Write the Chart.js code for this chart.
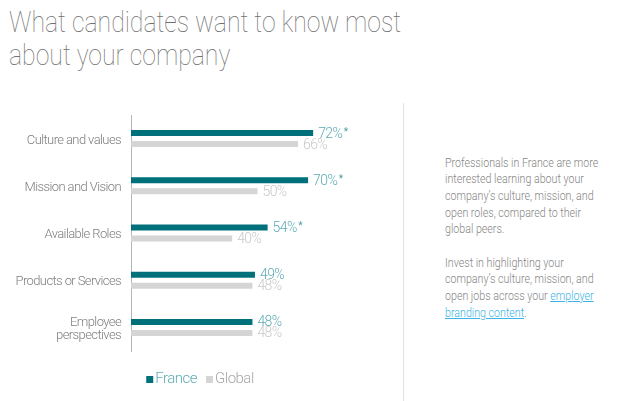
<!DOCTYPE html>
<html>
<head>
<meta charset="utf-8">
<script src="https://cdn.jsdelivr.net/npm/chart.js@4.4.1/dist/chart.umd.min.js"></script>
<style>
html,body{margin:0;padding:0;background:#fff;overflow:hidden;width:619px;height:401px;}
body{position:relative;font-family:Roboto,"Liberation Sans",sans-serif;}
#title{position:absolute;left:9px;top:6px;margin:0;font-size:29px;font-weight:100;color:#707070;line-height:33px;white-space:nowrap;transform:scaleX(0.855);transform-origin:0 0;}
#wrap{position:absolute;left:0;top:0;width:404px;height:401px;}
#divider{position:absolute;left:403px;top:103px;width:1px;height:298px;background:#e2e2e2;}
#note{position:absolute;left:445px;top:154.5px;white-space:nowrap;font-size:12.5px;line-height:16.7px;color:#858585;font-weight:300;transform:scaleX(0.853);transform-origin:0 0;}
#note p{margin:0 0 16.7px 0;}
#note a{color:#3db3e6;text-decoration:underline;}
</style>
</head>
<body>
<h1 id="title">What candidates want to know most<br>about your company</h1>
<div id="wrap"><canvas id="c" width="404" height="401"></canvas></div>
<div id="divider"></div>
<div id="note">
<p>Professionals in France are more<br>interested learning about your<br>company’s culture, mission, and<br>open roles, compared to their<br>global peers.</p>
<p>Invest in highlighting your<br>company’s culture, mission, and<br>open jobs across your <a href="#">employer</a><br><a href="#">branding content</a>.</p>
</div>
<script>
const categories = ["Culture and values", "Mission and Vision", "Available Roles", "Products or Services", ["Employee", "perspectives"]];
const seriesNames = ["France", "Global"];
const franceValues = [72, 70, 54, 49, 48];
const globalValues = [66, 50, 40, 48, 48];
const franceSignificant = [true, true, true, false, false];
const xMin = 0;
const xMax = 100;

const FRANCE_BAR = "#00707a";
const GLOBAL_BAR = "#d5d5d5";
const FRANCE_TEXT = "#5eacb3";
const GLOBAL_TEXT = "#c9c9c9";
const LEGEND_TEXT = [FRANCE_TEXT, "#a8a8a8"];
const FONT = "Roboto, 'Liberation Sans', sans-serif";

const tightText = {
  id: "tightText",
  beforeDraw(chart) { chart.ctx.letterSpacing = "-0.6px"; }
};

const valueLabels = {
  id: "valueLabels",
  afterDatasetsDraw(chart) {
    const ctx = chart.ctx;
    ctx.save();
    ctx.letterSpacing = "-0.6px";
    chart.data.datasets.forEach((ds, di) => {
      const meta = chart.getDatasetMeta(di);
      meta.data.forEach((el, i) => {
        const txt = ds.data[i] + "%";
        const x = el.x + 5;
        const y = el.y + 1;
        ctx.font = "300 14px " + FONT;
        ctx.textBaseline = "middle";
        ctx.textAlign = "left";
        ctx.fillStyle = di === 0 ? FRANCE_TEXT : GLOBAL_TEXT;
        ctx.fillText(txt, x, y);
        if (di === 0 && franceSignificant[i]) {
          const w = ctx.measureText(txt).width;
          ctx.font = "400 10px " + FONT;
          ctx.fillStyle = "#4a9ea5";
          ctx.fillText("*", x + w + 1.5, y - 2);
        }
      });
    });
    ctx.restore();
  }
};

const bottomLegend = {
  id: "bottomLegend",
  afterDraw(chart) {
    const ctx = chart.ctx;
    ctx.save();
    ctx.letterSpacing = "-0.5px";
    ctx.font = "300 15px " + FONT;
    ctx.textBaseline = "middle";
    ctx.textAlign = "left";
    const box = 7, gapText = 2, gapItem = 9;
    const items = chart.data.datasets.map((ds, i) => ({ label: ds.label, color: ds.backgroundColor, tc: LEGEND_TEXT[i], w: ctx.measureText(ds.label).width }));
    let total = 0;
    items.forEach((it, i) => { total += box + gapText + it.w + (i ? gapItem : 0); });
    let x = chart.width / 2 - total / 2 - 2;
    const y = 379.5;
    items.forEach((it) => {
      ctx.fillStyle = it.color;
      ctx.fillRect(x, y - box / 2, box, box);
      x += box + gapText;
      ctx.fillStyle = it.tc;
      ctx.fillText(it.label, x, y);
      x += it.w + gapItem;
    });
    ctx.restore();
  }
};

new Chart(document.getElementById("c"), {
  type: "bar",
  data: {
    labels: categories,
    datasets: [
      { label: seriesNames[0], data: franceValues, backgroundColor: FRANCE_BAR, categoryPercentage: 0.466, barPercentage: 0.545 },
      { label: seriesNames[1], data: globalValues, backgroundColor: GLOBAL_BAR, categoryPercentage: 0.466, barPercentage: 0.545 }
    ]
  },
  options: {
    indexAxis: "y",
    responsive: false,
    animation: false,
    layout: { padding: { top: 115, right: 20, left: 0, bottom: 50 } },
    scales: {
      x: { display: false, min: xMin, max: xMax },
      y: {
        grid: { display: false, drawTicks: false },
        border: { display: true, color: "#b5b5b5", width: 1 },
        ticks: { color: "#7e7e7e", padding: 10, labelOffset: 2, font: { family: FONT, size: 13, weight: "300", lineHeight: 1.05 } },
        afterFit(s) { s.width = 131; }
      }
    },
    plugins: {
      tooltip: { enabled: false },
      legend: { display: false }
    }
  },
  plugins: [tightText, valueLabels, bottomLegend]
});
</script>
</body>
</html>
